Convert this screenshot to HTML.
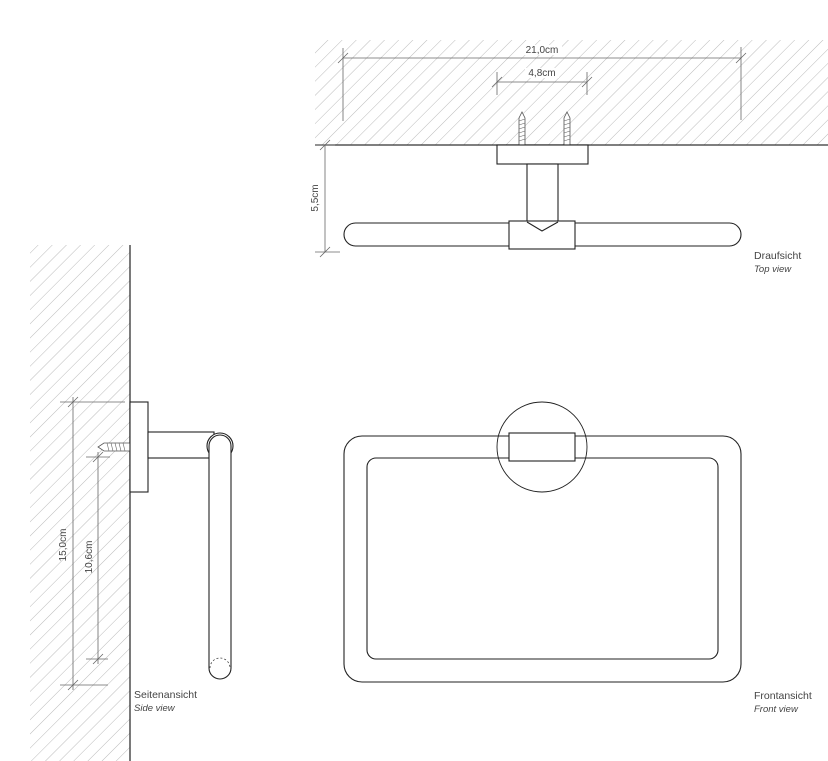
<!DOCTYPE html>
<html><head><meta charset="utf-8"><style>
html,body{margin:0;padding:0;background:#fff;}
svg{display:block;}
text{font-family:"Liberation Sans",sans-serif;fill:#444;}
</style></head><body>
<svg width="828" height="761" viewBox="0 0 828 761" xmlns="http://www.w3.org/2000/svg">
<defs>
<pattern id="h" patternUnits="userSpaceOnUse" width="10" height="10" patternTransform="rotate(45)">
<line x1="0" y1="0" x2="0" y2="10" stroke="#aaa" stroke-width="0.8"/>
</pattern>
</defs>
<rect x="315" y="40" width="513" height="105" fill="url(#h)"/>
<line x1="315" y1="145" x2="828" y2="145" stroke="#333" stroke-width="1.3"/>
<g stroke="#666" stroke-width="0.8">
<line x1="343" y1="58" x2="741" y2="58"/>
<line x1="343" y1="48" x2="343" y2="121"/>
<line x1="741" y1="47" x2="741" y2="120"/>
<line x1="338" y1="63" x2="348" y2="53"/><line x1="736" y1="63" x2="746" y2="53"/>
<line x1="497" y1="82" x2="587" y2="82"/>
<line x1="497" y1="72" x2="497" y2="95"/><line x1="587" y1="72" x2="587" y2="95"/>
<line x1="492" y1="87" x2="502" y2="77"/><line x1="582" y1="87" x2="592" y2="77"/>
<line x1="325" y1="145" x2="325" y2="252"/>
<line x1="320" y1="150" x2="330" y2="140"/><line x1="320" y1="257" x2="330" y2="247"/>
<line x1="315" y1="145" x2="335" y2="145"/><line x1="315" y1="252" x2="340" y2="252"/>
</g>
<rect x="522" y="45" width="40" height="10" fill="#fff"/>
<text x="542" y="53" font-size="10" text-anchor="middle">21,0cm</text>
<rect x="525" y="68" width="34" height="10" fill="#fff"/>
<text x="542" y="76" font-size="10" text-anchor="middle">4,8cm</text>
<text transform="translate(318,198) rotate(-90)" font-size="10" text-anchor="middle">5,5cm</text>
<g stroke="#555" stroke-width="0.8" fill="#fff">
<path d="M519 145 L519 118 L522 112 L525 118 L525 145 Z"/>
<path d="M564 145 L564 118 L567 112 L570 118 L570 145 Z"/>
</g>
<g stroke="#666" stroke-width="0.6">
<line x1="519" y1="121" x2="525" y2="119"/><line x1="519" y1="125" x2="525" y2="123"/><line x1="519" y1="129" x2="525" y2="127"/><line x1="519" y1="133" x2="525" y2="131"/><line x1="519" y1="137" x2="525" y2="135"/><line x1="519" y1="141" x2="525" y2="139"/>
<line x1="564" y1="121" x2="570" y2="119"/><line x1="564" y1="125" x2="570" y2="123"/><line x1="564" y1="129" x2="570" y2="127"/><line x1="564" y1="133" x2="570" y2="131"/><line x1="564" y1="137" x2="570" y2="135"/><line x1="564" y1="141" x2="570" y2="139"/>
</g>
<g stroke="#222" stroke-width="1.1" fill="#fff">
<rect x="344" y="223" width="397" height="23" rx="11.5"/>
<rect x="497" y="145" width="91" height="19"/>
<rect x="527" y="164" width="31" height="58"/>
<rect x="509" y="221" width="66" height="28"/>
<polyline points="527,222 542,231 558,222" fill="none"/>
</g>
<text x="754" y="259" font-size="10.5">Draufsicht</text>
<text x="754" y="272" font-size="9.5" font-style="italic">Top view</text>

<rect x="30" y="245" width="100" height="516" fill="url(#h)"/>
<line x1="130" y1="245" x2="130" y2="761" stroke="#333" stroke-width="1.3"/>
<g stroke="#666" stroke-width="0.8">
<line x1="60" y1="402" x2="125" y2="402"/>
<line x1="60" y1="685" x2="108" y2="685"/>
<line x1="73" y1="397" x2="73" y2="690"/>
<line x1="68" y1="407" x2="78" y2="397"/><line x1="68" y1="690" x2="78" y2="680"/>
<line x1="86" y1="457" x2="110" y2="457"/>
<line x1="86" y1="659" x2="108" y2="659"/>
<line x1="98" y1="452" x2="98" y2="664"/>
<line x1="93" y1="462" x2="103" y2="452"/><line x1="93" y1="664" x2="103" y2="654"/>
</g>
<text transform="translate(66,545) rotate(-90)" font-size="10" text-anchor="middle">15,0cm</text>
<text transform="translate(92,557) rotate(-90)" font-size="10" text-anchor="middle">10,6cm</text>
<path d="M130 443 L104 443 L98 447 L104 451 L130 451 Z" fill="#fff" stroke="#555" stroke-width="0.8"/>
<g stroke="#666" stroke-width="0.6">
<line x1="107" y1="443" x2="109" y2="451"/><line x1="111" y1="443" x2="113" y2="451"/><line x1="115" y1="443" x2="117" y2="451"/><line x1="119" y1="443" x2="121" y2="451"/><line x1="123" y1="443" x2="125" y2="451"/>
</g>
<g stroke="#222" stroke-width="1.1" fill="#fff">
<rect x="130" y="402" width="18" height="90"/>
<rect x="148" y="432" width="66" height="26"/>
<circle cx="220" cy="446" r="13"/>
<path d="M209 446 A11 11 0 0 1 231 446 L231 668 A11 11 0 0 1 209 668 Z"/>
</g>
<path d="M210 668 A10 10 0 0 1 230 668" fill="none" stroke="#444" stroke-width="0.8" stroke-dasharray="2,2"/>
<text x="134" y="698" font-size="10.5">Seitenansicht</text>
<text x="134" y="711" font-size="9.5" font-style="italic">Side view</text>

<g stroke="#222" stroke-width="1.1" fill="none">
<circle cx="542" cy="447" r="45" stroke-width="0.9"/>
<rect x="344" y="436" width="397" height="246" rx="18"/>
<rect x="367" y="458" width="351" height="201" rx="9"/>
<rect x="509" y="433" width="66" height="28" fill="#fff"/>
</g>
<text x="754" y="699" font-size="10.5">Frontansicht</text>
<text x="754" y="712" font-size="9.5" font-style="italic">Front view</text>
</svg>
</body></html>
